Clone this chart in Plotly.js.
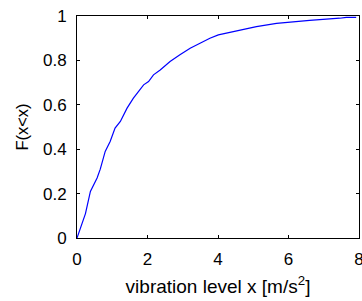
<!DOCTYPE html>
<html><head><meta charset="utf-8">
<script src="https://cdn.plot.ly/plotly-3.0.1.min.js"></script>
<style>html,body{margin:0;padding:0;background:#fff;}#chart{width:362px;height:301px;}</style>
</head><body><div id="chart"></div>
<script>
const xLevel = [0, 0.14, 0.24, 0.38, 0.57, 0.66, 0.8, 0.94, 1.08, 1.23, 1.42, 1.6, 1.89, 2.03, 2.17, 2.36, 2.64, 2.92, 3.21, 3.49, 3.77, 4.01, 4.34, 4.72, 5.09, 5.66, 6.13, 6.6, 7.45, 7.64, 7.92];
const cdf = [0, 0.06, 0.11, 0.21, 0.27, 0.31, 0.39, 0.435, 0.495, 0.525, 0.585, 0.63, 0.69, 0.705, 0.735, 0.757, 0.795, 0.825, 0.855, 0.877, 0.9, 0.915, 0.927, 0.94, 0.952, 0.967, 0.975, 0.98, 0.99, 0.994, 0.994];
const xTicks = [0, 2, 4, 6, 8];
const yTicks = [0, 0.2, 0.4, 0.6, 0.8, 1];
const yTickText = ['0', '0.2', '0.4', '0.6', '0.8', '1'];

const tickFont = {family: 'Liberation Sans, Arial, sans-serif', size: 17, color: '#000'};
const xTitleFont = {family: 'Liberation Sans, Arial, sans-serif', size: 19, color: '#000'};
const yTitleFont = {family: 'Liberation Sans, Arial, sans-serif', size: 16.5, color: '#000'};
Plotly.newPlot('chart', [{
  x: xLevel, y: cdf, type: 'scatter', mode: 'lines',
  line: {color: '#0000ff', width: 1.2}
}], {
  width: 362, height: 301,
  margin: {l: 77, r: 3, t: 16, b: 63},
  paper_bgcolor: '#fff', plot_bgcolor: '#fff',
  font: tickFont,
  showlegend: false,
  xaxis: {
    range: [0, 8], tickvals: xTicks, ticktext: xTicks.map(String),
    ticks: 'inside', ticklen: 3, tickcolor: '#000', tickwidth: 1,
    showline: true, linecolor: '#000', linewidth: 1, mirror: 'ticks',
    showgrid: false, zeroline: false, tickfont: tickFont,
    ticklabeloverflow: 'allow', ticklabelstandoff: 6,
    title: {text: 'vibration level x [m/s<sup>2</sup>]', font: xTitleFont, standoff: 11}
  },
  yaxis: {
    range: [0, 1], tickvals: yTicks, ticktext: yTickText,
    ticks: 'inside', ticklen: 3, tickcolor: '#000', tickwidth: 1,
    showline: true, linecolor: '#000', linewidth: 1, mirror: 'ticks',
    showgrid: false, zeroline: false, tickfont: tickFont,
    ticklabelstandoff: 6,
    title: {text: 'F(x<x)', font: yTitleFont, standoff: 10}
  }
}, {staticPlot: true, displayModeBar: false});
</script></body></html>
